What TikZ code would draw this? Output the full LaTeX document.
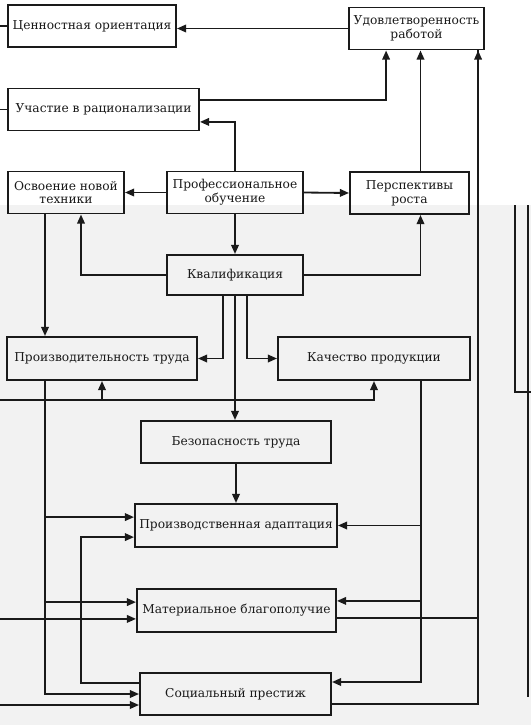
\documentclass[tikz,border=0pt]{standalone}
\usepackage{fontspec}
\setmainfont{DejaVu Serif}
\usetikzlibrary{arrows.meta, calc}
\definecolor{ink}{HTML}{1A1A1A}
\definecolor{scan}{HTML}{F2F2F2}

\begin{document}
\begin{tikzpicture}[x=0.25mm, y=-0.25mm, >={Triangle[length=2.3mm, width=1.9mm]},
  box/.style={draw=ink, line width=1.4pt, align=center, inner sep=1pt, minimum height=10.5mm,
    text=ink, font=\fontsize{8.7}{9.7}\selectfont},
  link/.style={draw=ink, line width=1.3pt},
  arr/.style={link, ->}]

% Background
\useasboundingbox (0,0) rectangle (531,725);
\clip (0,0) rectangle (531,725);
\fill[white] (0,0) rectangle (531,205);
\fill[scan] (0,205) rectangle (531,725);

% Upper blocks
\node[box, minimum width=42mm] (cenn) at (92,26) {Ценностная ориентация};
\node[box, minimum width=33.75mm] (udov) at (416.5,28.5) {Удовлетворенность\\работой};
\node[box, minimum width=47.75mm] (uch) at (103.5,109.5) {Участие в рационализации};
\node[box, minimum width=29mm] (osv) at (66,192.5) {Освоение новой\\техники};
\node[box, minimum width=34mm] (prof) at (235,192.5) {Профессиональное\\обучение};
\node[box, minimum width=29.75mm] (persp) at (409.5,193) {Перспективы\\роста};

% Middle blocks
\node[box, minimum width=34mm, minimum height=10mm] (kval) at (235,275) {Квалификация};
\node[box, minimum width=47.5mm, minimum height=10.75mm] (proizv) at (102,358.5) {Производительность труда};
\node[box, minimum width=48mm, minimum height=10.75mm] (kach) at (374,358.5) {Качество продукции};
\node[box, minimum width=47.5mm] (bez) at (236,442) {Безопасность труда};

% Lower blocks
\node[box, minimum width=50.5mm, minimum height=10.75mm] (adapt) at (236,525.5) {Производственная адаптация};
\node[box, minimum width=49.75mm, minimum height=10.75mm] (mat) at (236.5,610.5) {Материальное благополучие};
\node[box, minimum width=47.75mm] (soc) at (235.5,694) {Социальный престиж};

% Helper coordinates for the long verticals
\coordinate (row) at (0,400);
\coordinate (lx) at ([xshift=-14.25mm]proizv.south);
\coordinate (kx) at ([xshift=11.75mm]kach.south);
\coordinate (rx) at ([xshift=15.4mm]udov.south);

% Top part
\draw[arr] (udov.west) -- (udov.west -| cenn.east);
\draw[arr] (cenn.west) -- ++(-29,0) |- ([yshift=-2.75mm]soc.west);
\draw[link] (uch.west) -- ++(-15,0) coordinate (ul);
\draw[arr] (ul) |- (kach.south |- row) -- (kach.south);
\draw[arr] (proizv.south |- row) -- (proizv.south);
\draw[arr] (ul |- row) |- ([yshift=-2.1mm]mat.west);
\draw[arr] ([yshift=2.4mm]uch.east) -| ([xshift=-7.6mm]udov.south);
\draw[arr] (prof.north) |- ([yshift=-3.1mm]uch.east);
\draw[arr] ([xshift=2.75mm]persp.north) -- ([xshift=2.75mm]persp.north |- udov.south);
\draw[arr] (prof.west) -- (osv.east);
\draw[arr] (prof.east) -- (persp.west);

% Qualification
\draw[arr] (prof.south) -- (kval.north);
\draw[arr] (kval.west) -| ([xshift=3.75mm]osv.south);
\draw[arr] (kval.east) -| ([xshift=2.75mm]persp.south);
\draw[arr] ([xshift=-3mm]kval.south) |- (proizv.east);
\draw[arr] ([xshift=3mm]kval.south) |- (kach.west);
\draw[arr] (kval.south) -- (kval.south |- bez.north);
\draw[arr] (bez.south) -- (bez.south |- adapt.north);

% Productivity line
\draw[arr] ([xshift=-5.25mm]osv.south) -- ([xshift=-5.25mm]osv.south |- proizv.north);
\draw[arr] (lx) |- (soc.west);
\draw[arr] ([yshift=2.1mm]adapt.west -| lx) -- ([yshift=2.1mm]adapt.west);
\draw[arr] ([yshift=2.1mm]mat.west -| lx) -- ([yshift=2.1mm]mat.west);

% Quality line
\draw[arr] (kx) |- ([yshift=3mm]soc.east);
\draw[arr] (adapt.east -| kx) -- (adapt.east);
\draw[arr] ([yshift=2.4mm]mat.east -| kx) -- ([yshift=2.4mm]mat.east);

% Prestige back to adaptation
\draw[arr] ([yshift=2.75mm]soc.west) -- ++(-58,0) |- ([yshift=-2.9mm]adapt.west);

% Satisfaction
\draw[arr] ([yshift=-2.5mm]soc.east) -| (rx);
\draw[link] ([yshift=-1.9mm]mat.east) -| (rx);

% Edge of the page
\draw[link] (515,205) -- (515,392) -- (531,392);
\draw[link] (528,205) -- (528,697);

\end{tikzpicture}
\end{document}
